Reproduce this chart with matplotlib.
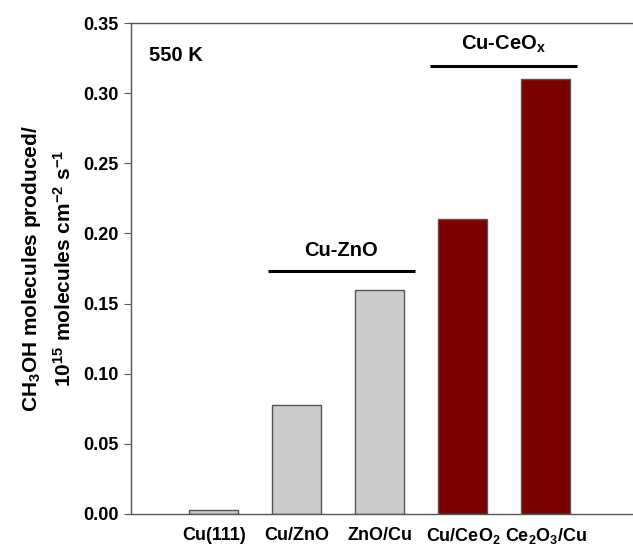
import matplotlib
matplotlib.use("Agg")
import matplotlib.pyplot as plt

plt.rcParams['font.family'] = ['Liberation Sans', 'DejaVu Sans']
plt.rcParams['font.weight'] = 'bold'
plt.rcParams['mathtext.fontset'] = 'custom'
plt.rcParams['mathtext.rm'] = 'Liberation Sans:bold'
plt.rcParams['mathtext.it'] = 'Liberation Sans:bold'
plt.rcParams['mathtext.bf'] = 'Liberation Sans:bold'

catalysts = ['Cu(111)', 'Cu/ZnO', 'ZnO/Cu', 'Cu/CeO$_2$', 'Ce$_2$O$_3$/Cu']
rates = [0.003, 0.078, 0.16, 0.21, 0.31]
colors = ['#cccccc', '#cccccc', '#cccccc', '#7b0000', '#7b0000']
groups = ['Cu-ZnO', 'Cu-CeO$_\\mathrm{x}$']
group_span = [(1.65, 3.42), (3.60, 5.37)]
group_level = [0.173, 0.319]

fig = plt.figure(figsize=(6.33, 5.47), dpi=100)
ax = fig.add_axes([131 / 633, 33 / 547, 1 - 131 / 633, 491 / 547])

x = list(range(1, len(rates) + 1))
ax.bar(x, rates, width=0.59, color=colors, edgecolor='#555555', linewidth=1)

for name, (a, b), lvl in zip(groups, group_span, group_level):
    ax.plot([a, b], [lvl, lvl], color='black', lw=2.2, solid_capstyle='butt')
    ax.text((a + b) / 2, lvl + 0.008, name, ha='center', va='bottom',
            fontsize=14.5, fontweight='bold')

ax.text(0.22, 0.327, '550 K', fontsize=14.5, fontweight='bold', va='center')

ax.set_xlim(0, 6.05)
ax.set_ylim(0, 0.35)
ax.set_yticks([0, 0.05, 0.10, 0.15, 0.20, 0.25, 0.30, 0.35])
ax.set_yticklabels(['0.00', '0.05', '0.10', '0.15', '0.20', '0.25', '0.30', '0.35'])
ax.set_xticks(x)
ax.set_xticklabels(catalysts)
ax.tick_params(axis='x', length=0, labelsize=13, pad=9)
ax.tick_params(axis='y', direction='out', length=5, labelsize=13, color='#555555', pad=4)
for lab in ax.get_xticklabels() + ax.get_yticklabels():
    lab.set_fontweight('bold')

ax.spines['right'].set_visible(False)
for s in ['left', 'top', 'bottom']:
    ax.spines[s].set_color('#555555')
    ax.spines[s].set_linewidth(1)

ax.set_ylabel('CH$_3$OH molecules produced/\n10$^{15}$ molecules cm$^{-2}$ s$^{-1}$',
              fontsize=15, fontweight='bold', labelpad=6, linespacing=1.55)

fig.savefig('out.png', dpi=100)
